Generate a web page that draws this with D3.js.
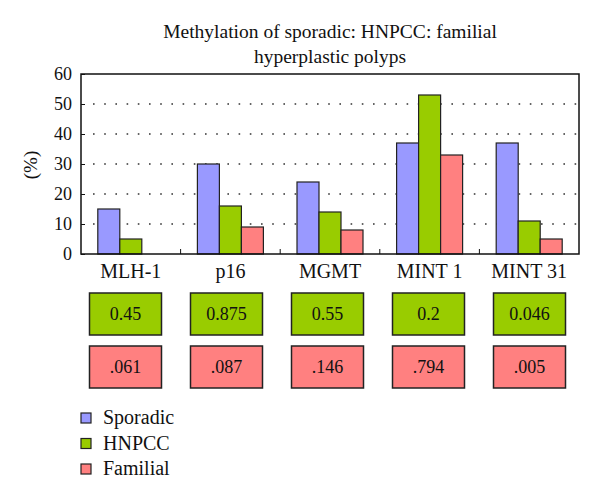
<!DOCTYPE html>
<html>
<head>
<meta charset="utf-8">
<script src="https://cdn.jsdelivr.net/npm/d3@7"></script>
<style>
  body { margin: 0; background: #fff; }
</style>
</head>
<body>
<div id="chart"></div>
<script>
var genes = ["MLH-1", "p16", "MGMT", "MINT 1", "MINT 31"];
var seriesNames = ["Sporadic", "HNPCC", "Familial"];
var sporadic = [15, 30, 24, 37, 37];
var hnpcc = [5, 16, 14, 53, 11];
var familial = [0, 9, 8, 33, 5];
var hnpccP = ["0.45", "0.875", "0.55", "0.2", "0.046"];
var familialP = [".061", ".087", ".146", ".794", ".005"];
var yTicks = [0, 10, 20, 30, 40, 50, 60];
var colors = ["#9999ff", "#99cc00", "#ff8080"];

var FONT = "'Liberation Serif', 'DejaVu Serif', serif";

var margin = {top: 74, left: 81},
width = 498,
height = 180;

var svg = d3.select("#chart").append("svg")
  .attr("width", 600)
  .attr("height", 500);

// title
svg.append("text")
  .attr("x", 330).attr("y", 38)
  .attr("text-anchor", "middle")
  .style("font-size", "19.5px")
  .text("Methylation of sporadic: HNPCC: familial");
svg.append("text")
  .attr("x", 330).attr("y", 63)
  .attr("text-anchor", "middle")
  .style("font-size", "19.5px")
  .text("hyperplastic polyps");

var g = svg.append("g")
  .attr("transform", "translate(" + margin.left + "," + margin.top + ")");

var x = d3.scaleBand().domain(genes).range([0, width]);
var xs = d3.scaleBand().domain(seriesNames)
  .range([x.bandwidth() / 2 - 33, x.bandwidth() / 2 + 33]);
var y = d3.scaleLinear().domain([0, 60]).range([height, 0]);

// dotted grid
g.append("g")
  .selectAll("line")
  .data(yTicks.filter(d => d > 0 && d < 60))
  .join("line")
    .attr("x1", 12).attr("x2", width)
    .attr("y1", d => y(d)).attr("y2", d => y(d))
    .attr("stroke", "#333")
    .attr("stroke-width", 1.6)
    .attr("stroke-dasharray", "1.6,9.6");

// bars
var table = genes.map((gname, i) => ({gene: gname, vals: [sporadic[i], hnpcc[i], familial[i]]}));

g.append("g")
  .selectAll("g")
  .data(table)
  .join("g")
    .attr("transform", d => "translate(" + x(d.gene) + ",0)")
  .selectAll("rect")
  .data(d => d.vals.map((v, k) => ({name: seriesNames[k], v: v, c: colors[k]})).filter(d => d.v > 0))
  .join("rect")
    .attr("x", d => xs(d.name))
    .attr("y", d => y(d.v))
    .attr("width", xs.bandwidth())
    .attr("height", d => height - y(d.v))
    .attr("fill", d => d.c)
    .attr("stroke", "#222")
    .attr("stroke-width", 1.2);

// frame
g.append("rect")
  .attr("width", width).attr("height", height)
  .attr("fill", "none")
  .attr("stroke", "#111")
  .attr("stroke-width", 1.5);

// y axis
var yAxis = g.append("g")
  .call(d3.axisLeft(y).tickValues(yTicks).tickSizeInner(-4).tickSizeOuter(0).tickPadding(9));
yAxis.select(".domain").remove();
yAxis.selectAll("line").attr("stroke", "#111");
yAxis.selectAll("text").style("font-size", "18px");

// x axis ticks at boundaries
g.append("g")
  .selectAll("line")
  .data(genes.slice(1))
  .join("line")
    .attr("x1", d => x(d)).attr("x2", d => x(d))
    .attr("y1", height).attr("y2", height - 5)
    .attr("stroke", "#111");

g.append("g")
  .selectAll("text")
  .data(genes)
  .join("text")
    .attr("x", d => x(d) + x.bandwidth() / 2)
    .attr("y", height + 24)
    .attr("text-anchor", "middle")
    .style("font-size", "20px")
    .text(d => d);

// y label
svg.append("text")
  .attr("transform", "translate(37,165) rotate(-90)")
  .attr("text-anchor", "middle")
  .style("font-size", "19px")
  .text("(%)");

// p value boxes
var bx = d3.scaleBand().domain(genes).range([75, 580]);
var rows = [
  {vals: hnpccP, c: colors[1], y: 293},
  {vals: familialP, c: colors[2], y: 346}
];
rows.forEach(function(r) {
  var bg = svg.append("g").selectAll("g")
    .data(genes.map((gname, i) => ({gene: gname, t: r.vals[i]})))
    .join("g")
      .attr("transform", d => "translate(" + (bx(d.gene) + bx.bandwidth() / 2 - 36) + "," + r.y + ")");
  bg.append("rect")
    .attr("width", 72).attr("height", 42)
    .attr("fill", r.c)
    .attr("stroke", "#222")
    .attr("stroke-width", 1.5);
  bg.append("text")
    .attr("x", 36).attr("y", 27)
    .attr("text-anchor", "middle")
    .style("font-size", "18px")
    .text(d => d.t);
});

// legend
var leg = svg.append("g").selectAll("g")
  .data(seriesNames)
  .join("g")
    .attr("transform", (d, i) => "translate(81," + (413 + i * 25.5) + ")");
leg.append("rect")
  .attr("width", 10).attr("height", 10)
  .attr("fill", (d, i) => colors[i])
  .attr("stroke", "#222")
  .attr("stroke-width", 1.2);
leg.append("text")
  .attr("x", 22).attr("y", 11)
  .style("font-size", "20px")
  .text(d => d);

svg.selectAll("text").style("font-family", FONT).style("fill", "#111");
</script>
</body>
</html>
